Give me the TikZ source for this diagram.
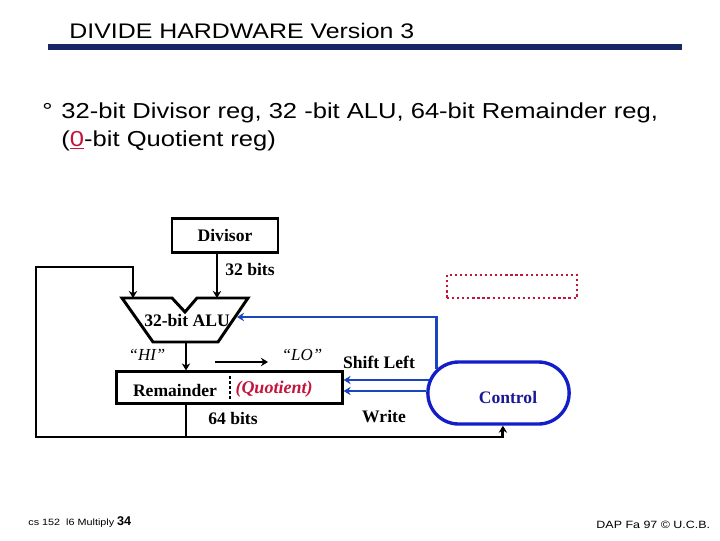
\documentclass[tikz,border=0pt]{standalone}
\usepackage{fontspec}
\usepackage{xcolor}
\setmainfont{Liberation Serif}
\setsansfont{Liberation Sans}
\newfontfamily\slidefont[FakeStretch=1.18]{Liberation Sans}
\usetikzlibrary{arrows.meta, positioning, calc}
\definecolor{navy}{RGB}{25,40,100}
\definecolor{linkblue}{RGB}{25,70,190}
\definecolor{ringblue}{RGB}{20,30,200}
\definecolor{textblue}{RGB}{25,25,150}
\definecolor{qred}{RGB}{195,20,60}

\begin{document}
\begin{tikzpicture}[
  x=0.025cm, y=-0.025cm,
  line width=2.1pt,
  box/.style={rectangle, draw, line width=2.1pt, font=\fontsize{12.5}{14}\selectfont\bfseries},
  lbl/.style={inner sep=0pt, font=\fontsize{12.5}{14}\selectfont\bfseries},
  slide/.style={anchor=base west, inner sep=0pt, font=\slidefont\fontsize{15.4}{18}\selectfont},
  arrow/.style={-{Stealth[length=5pt,width=6pt]}},
  barrow/.style={arrow, draw=linkblue}
]
  \useasboundingbox (0,0) rectangle (720,540);

  % header
  \node[slide, font=\slidefont\fontsize{15}{18}\selectfont] (title) at (68,38) {DIVIDE HARDWARE Version 3};
  \draw[navy, line width=3.6pt] (48,47) -- (682,47);
  \node[slide] (dot) at (41,118) {°};
  \node[slide] (line1) at (60,118) {32-bit Divisor reg, 32 -bit ALU, 64-bit Remainder reg,};
  \node[slide] (line2) at (60,146) {(\textcolor{qred}{\underline{0}}-bit Quotient reg)};

  % datapath
  \node[box, minimum width=2.65cm, minimum height=0.83cm] (divisor) at (225,235.5) {Divisor};
  \coordinate (aluA) at (133,298);
  \coordinate (aluB) at (217,298);
  \coordinate (aluC) at (237,317);
  \coordinate (aluOut) at (186,342);
  \draw[line join=miter] (122,298) -- (172,298) -- (185,312) -- (197,298)
    -- (248,298) -- (218,342) -- (153,342) -- cycle;
  \node[lbl] (alu) at (187,320) {32-bit ALU};
  \node[lbl] (bits32) at (250,269) {32 bits};

  \node[box, minimum width=5.63cm, minimum height=0.78cm] (rem) at (229.5,387.5) {};
  \node[lbl] (remtxt) at (175,390) {Remainder};
  \node[lbl, text=qred, font=\fontsize{12.8}{14}\selectfont\bfseries\itshape] (quot) at (274,389) {(Quotient)};
  \draw[line width=1.8pt, dash pattern=on 2pt off 1.5pt] (230,376) -- (230,400);

  \node[lbl, font=\fontsize{12}{14}\selectfont\itshape] (hi) at (147,355) {“HI”};
  \node[lbl, font=\fontsize{12}{14}\selectfont\itshape] (lo) at (302,355) {“LO”};
  \node[lbl] (shift) at (379,362) {Shift Left};
  \node[lbl] (bits64) at (233,418) {64 bits};
  \node[lbl] (write) at (384,417) {Write};

  % control
  \node[draw=ringblue, line width=2.4pt, rounded corners=0.77cm, minimum width=3.53cm, minimum height=1.55cm] (ctrl) at (498.5,393) {};
  \node[lbl, text=textblue] (ctrltxt) at (508,397) {Control};
  \node[draw=qred, dotted, line width=1.6pt, minimum width=3.25cm, minimum height=0.58cm] (qbox) at (512,286.5) {};

  % connections
  \coordinate (shiftL) at (215,362);
  \coordinate (shiftR) at (268,362);
  \coordinate (bus) at (186,437);
  \coordinate (loopL) at (36,267);
  \draw[arrow] (divisor.south -| aluB) -- (aluB);
  \draw[arrow] (aluOut) -- (rem.north -| aluOut);
  \draw[arrow, line width=1.6pt] (shiftL) -- (shiftR);
  \draw (rem.south -| aluOut) -- (bus);
  \draw[arrow] (bus) -| (loopL) -| (aluA);
  \draw[arrow] (bus) -| ([xshift=0.11cm]ctrl.south);
  \draw[barrow] ($(ctrl.north west)+(10,9)$) |- (aluC);
  \draw[barrow] ($(ctrl.west)+(3,-13)$) -- (rem.east |- 0,380);
  \draw[barrow] ($(ctrl.west)+(0,-2)$) -- (rem.east |- 0,391);

  % footer
  \node[slide, font=\slidefont\fontsize{6.5}{9}\selectfont] (foot) at (27,525) {cs 152~~l6 Multiply {\sffamily\fontsize{9}{12}\selectfont\bfseries 34}};
  \node[slide, font=\slidefont\fontsize{7.5}{9}\selectfont] (credit) at (595,528) {DAP Fa 97 © U.C.B.};
\end{tikzpicture}
\end{document}
